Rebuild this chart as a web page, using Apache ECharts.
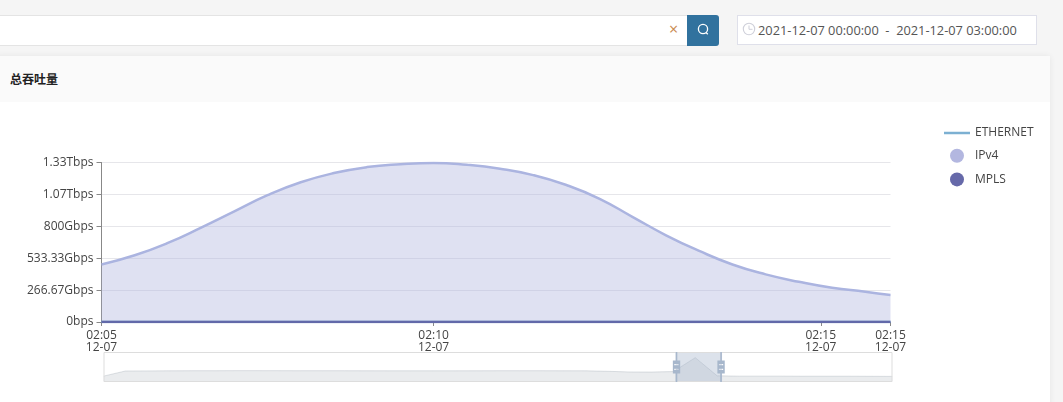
<!DOCTYPE html>
<html><head><meta charset="utf-8">
<script src="https://cdn.jsdelivr.net/npm/echarts@6/dist/echarts.min.js"></script>
<style>
html,body{margin:0;padding:0;width:1063px;height:402px;overflow:hidden;background:#f5f5f5;font-family:"Open Sans","Noto Sans CJK SC",sans-serif;}
div{box-sizing:border-box;position:absolute}
#search{left:-2px;top:15px;width:690px;height:31px;background:#fff;border:1px solid #e4e4e4;}
#x{left:669px;top:20px;font-size:16px;line-height:18px;color:#c98a4e;}
#btn{left:687px;top:15px;width:32px;height:31px;background:#31729e;border-radius:0 3px 3px 0;}
#date{left:737px;top:15px;width:300px;height:30px;background:#fff;border:1px solid #dfe0ea;font-size:12.8px;line-height:28px;color:#555;padding-left:20px;white-space:pre;}
#card{left:-4px;top:56px;width:1054px;height:350px;background:#fff;box-shadow:0 0 6px rgba(0,0,30,.07);border-radius:3px;}
#head{left:0;top:0;width:100%;height:46px;background:#fafafa;}
#title{left:14px;top:15px;font-size:12px;line-height:16px;font-weight:700;color:#222;font-family:"Noto Sans CJK SC",sans-serif;}
#chart{left:0;top:0;width:1063px;height:402px;}
svg{position:absolute}
</style></head>
<body>
<div id="search"></div><div id="x">×</div>
<div id="btn"><svg width="32" height="31" style="left:0;top:0"><circle cx="16" cy="14" r="4.6" fill="none" stroke="#fff" stroke-width="1.3"/><path d="M19 17.5l1.8 1.8" stroke="#fff" stroke-width="1.3"/></svg></div>
<div id="date"><svg width="14" height="14" style="left:4px;top:6px"><circle cx="7" cy="7" r="5.7" fill="none" stroke="#cfd0da" stroke-width="1.1"/><path d="M7 3.5V7.3H10.5" fill="none" stroke="#cfd0da" stroke-width="1"/></svg>2021-12-07 00:00:00  -  2021-12-07 03:00:00</div>
<div id="card"><div id="head"><div id="title">总吞吐量</div></div></div>
<div id="chart"></div>
<script>
// x positions are axis minutes after 02:05
const sampleMinutes = [0,0.5,1,1.5,2,2.5,3,3.5,4,4.5,5,5.5,6,6.5,7,7.5,8,8.5,9,9.5,10,10.5,11,11.5,11.88];
const ipv4 = [481,558,661,789,925,1060,1168,1245,1295,1319,1330,1314,1281,1228,1145,1030,877,725,594,481,398,336,286,253,225];
const mpls = [0,0,0,0,0,0,0,0,0,0,0,0,0,0,0,0,0,0,0,0,0,0,0,0,0];
const ethernet = [0,0,0,0,0,0,0,0,0,0,0,0,0,0,0,0,0,0,0,0,0,0,0,0,0];
const xTickMinutes = [0,5,10.83,11.88];
const xTickLabels = ["02:05\n12-07","02:10\n12-07","02:15\n12-07","02:15\n12-07"];
const yTickLabels = ["0bps","266.67Gbps","533.33Gbps","800Gbps","1.07Tbps","1.33Tbps"];
const overviewTimes = ["00:00","00:05","00:10","00:15","00:20","00:25","00:30","00:35","00:40","00:45","00:50","00:55","01:00","01:05","01:10","01:15","01:20","01:25","01:30","01:35","01:40","01:45","01:50","01:55","02:00","02:03","02:05","02:10","02:15","02:20","02:25","02:30","02:35","02:40","02:45","02:50","02:55"];
const overviewValues = [205,520,525,530,535,535,540,540,538,535,535,535,532,530,530,530,530,532,535,535,535,532,530,500,460,455,483,1333,225,205,205,205,200,200,200,195,190];
const yStep = 1333.33/5;
const pairs = (ys) => sampleMinutes.map((m,i) => [m, ys[i]]);
const font = '"Open Sans","Noto Sans CJK SC",sans-serif';
const chart = echarts.init(document.getElementById('chart'),null,{renderer:'canvas'});
chart.setOption({
  animation:false,
  textStyle:{fontFamily:font},
  legend:{orient:'vertical',left:944,top:127,padding:0,itemWidth:26,itemHeight:14,itemGap:9.7,
    textStyle:{fontSize:12,color:'#444',fontFamily:font},
    symbolKeepAspect:true,
    data:[{name:'ETHERNET',icon:'path://M0 0H26V2.5H0Z'},{name:'IPv4',icon:'circle'},{name:'MPLS',icon:'circle'}]},
  grid:[
    {left:101.5,top:162.5,width:789,height:159.5},
    {left:104,top:352,width:788,height:29}
  ],
  xAxis:[
    {type:'value',gridIndex:0,min:0,max:11.88,
     axisLine:{lineStyle:{color:'#888'}},
     axisTick:{length:4,lineStyle:{color:'#888'},customValues:xTickMinutes},
     axisLabel:{color:'#444',fontSize:12,lineHeight:12,margin:8,showMaxLabel:true,showMinLabel:true,hideOverlap:false,
       customValues:xTickMinutes,formatter:(v)=>xTickLabels[xTickMinutes.indexOf(v)]},
     splitLine:{show:false}},
    {type:'category',gridIndex:1,boundaryGap:false,data:overviewTimes,show:false}
  ],
  yAxis:[
    {type:'value',gridIndex:0,min:0,max:1333.33,interval:yStep,
     axisLine:{show:true,lineStyle:{color:'#888'}},
     axisTick:{show:true,length:5,lineStyle:{color:'#888'}},
     axisLabel:{color:'#444',fontSize:12,margin:8,padding:[0,0,2,0],formatter:(v)=>yTickLabels[Math.round(v/yStep)]},
     splitLine:{lineStyle:{color:'#e6e6ea'}}},
    {type:'value',gridIndex:1,show:false}
  ],
  dataZoom:[{type:'slider',xAxisIndex:1,filterMode:'none',left:101,top:352,width:789,height:30,
    start:72.5,end:78.4,realtime:false,zoomLock:true,showDetail:false,brushSelect:false,moveHandleSize:0,
    borderColor:'#ddd',backgroundColor:'rgba(0,0,0,0)',fillerColor:'rgba(167,183,204,0.4)',
    handleIcon:'path://M8.2,13.6V3.9H6.3v9.7H3.1v14.9h3.3v9.7h1.8v-9.7h3.3V13.6H8.2z M9.7,24.4H4.8v-1.4h4.9V24.4z M9.7,19.1H4.8v-1.4h4.9V19.1z',
    handleSize:'100%',handleStyle:{color:'#a7b7cc',borderColor:'#a7b7cc',borderWidth:0},
    dataBackground:{lineStyle:{color:'#2f4554',width:0.5,opacity:0.3},areaStyle:{color:'#2f4554',opacity:0.1}},
    selectedDataBackground:{lineStyle:{color:'#2f4554',width:0.5,opacity:0.3},areaStyle:{color:'#2f4554',opacity:0.1}}}],
  series:[
    {name:'ETHERNET',type:'line',data:pairs(ethernet),smooth:true,symbol:'none',color:'#7cb0d2',lineStyle:{width:2.5}},
    {name:'IPv4',type:'line',data:pairs(ipv4),smooth:true,symbol:'none',color:'#b3b7e0',lineStyle:{width:2.5,color:'#abb4e0'},areaStyle:{color:'#b3b7e0',opacity:0.42}},
    {name:'MPLS',type:'line',data:pairs(mpls),smooth:true,symbol:'none',color:'#6669a9',lineStyle:{width:2.5,color:'#6269a9'}},
    {name:'overview',type:'line',xAxisIndex:1,yAxisIndex:1,data:overviewValues,symbol:'none',silent:true,lineStyle:{opacity:0,width:0},itemStyle:{opacity:0}}
  ]
});
</script>
</body></html>
